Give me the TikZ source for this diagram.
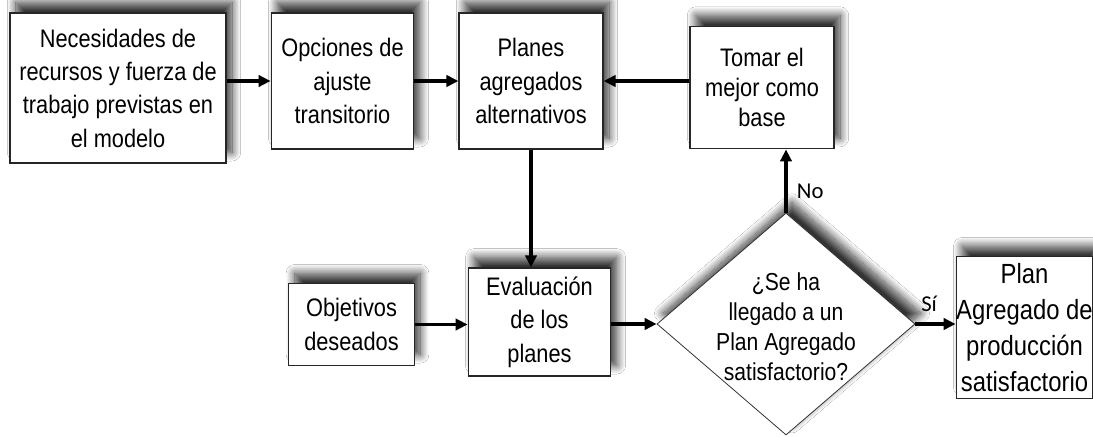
\documentclass[tikz,border=0pt]{standalone}
\usepackage{fontspec}
\setmainfont{Liberation Sans}[FakeStretch=0.86]
\newfontfamily\labelfont{Carlito}
\usetikzlibrary{shapes.geometric,arrows.meta,positioning,calc,shadows.blur}

\begin{document}
\begin{tikzpicture}[x=0.75pt, y=-0.75pt,
  sombra/.style={blur shadow={shadow xshift=4.5pt, shadow yshift=8pt, shadow blur radius=6.5pt, shadow opacity=80, shadow blur steps=16}},
  caja/.style={rectangle, draw=black!85, line width=0.9pt, fill=white, align=center, inner sep=0pt, sombra, font=\fontsize{19}{25}\selectfont},
  decision/.style={diamond, draw=black!80, line width=0.6pt, fill=white, inner sep=0pt, sombra, minimum width=193.5pt, minimum height=166.5pt},
  flecha/.style={line width=2.3pt, -{Triangle[length=9pt, width=8.5pt]}},
  etiqueta/.style={font=\labelfont\fontsize{17}{19}\selectfont, inner sep=1pt}]
\useasboundingbox (0,0) rectangle (1093,436);
\fill[white] (0,0) rectangle (1093,436);
\clip (0,0) rectangle (1093,436);

% fila de arriba
\node[caja, minimum width=162pt, minimum height=112.5pt] (necesidades) at (118,88) {Necesidades de\\recursos y fuerza de\\trabajo previstas en\\el modelo};
\node[caja, minimum width=107pt, minimum height=102pt] (opciones) at (342.5,81) {Opciones de\\ajuste\\transitorio};
\node[caja, minimum width=108pt, minimum height=102pt] (planes) at (531,81) {Planes\\agregados\\alternativos};
\node[caja, minimum width=108pt, minimum height=92pt, font=\fontsize{19}{22.5}\selectfont] (tomar) at (762,87.5) {Tomar el\\mejor como\\base};

% fila de abajo
\node[caja, minimum width=94pt, minimum height=61pt] (objetivos) at (351.5,324.5) {Objetivos\\deseados};
\node[caja, minimum width=107pt, minimum height=81pt] (evaluacion) at (539.5,322) {Evaluación\\de los\\planes};
\node[decision] (pregunta) at (786,324) {};
\node[align=center, inner sep=0pt, font=\fontsize{18.4}{22.5}\selectfont] (preguntatxt) at ($(pregunta.center)+(0,3)$) {¿Se ha\\llegado a un\\Plan Agregado\\satisfactorio?};
\node[caja, minimum width=98pt, minimum height=106pt, font=\fontsize{20.8}{27}\selectfont] (final) at (1024.5,327.5) {Plan\\Agregado de\\producción\\satisfactorio};

% conexiones
\draw[flecha] (necesidades.east |- opciones.west) -- (opciones.west);
\draw[flecha] (opciones) -- (planes);
\draw[flecha] (tomar.west |- planes.east) -- (planes.east);
\draw[flecha] (planes.south) -- (planes.south |- evaluacion.north);
\draw[flecha] (objetivos.east) -- (objetivos.east -| evaluacion.west);
\draw[flecha] (evaluacion.east |- pregunta.west) -- (pregunta.west);
\draw[flecha] (pregunta.north) -- (pregunta.north |- tomar.south) node[etiqueta, pos=0.33, right=6pt] (no) {No};
\draw[flecha] (pregunta.east) -- (pregunta.east -| final.west) node[etiqueta, pos=0.34, above=7pt] (si) {Sí};
\end{tikzpicture}
\end{document}
